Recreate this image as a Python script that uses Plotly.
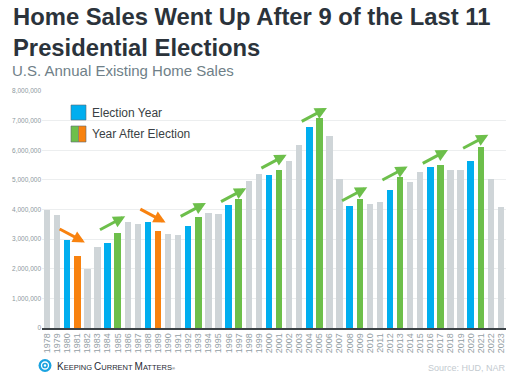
import plotly.graph_objects as go

# ---------------- data ----------------
years = list(range(1978, 2024))
sales = [3986000, 3827000, 2973000, 2419000, 1990000, 2719000, 2868000, 3214000,
         3565000, 3526000, 3594000, 3290000, 3186000, 3145000, 3432000, 3739000,
         3886000, 3852000, 4167000, 4371000, 4966000, 5183000, 5174000, 5335000,
         5632000, 6175000, 6778000, 7076000, 6478000, 5030000, 4110000, 4340000,
         4190000, 4260000, 4660000, 5090000, 4940000, 5250000, 5450000, 5510000,
         5340000, 5340000, 5640000, 6120000, 5030000, 4090000]
election_years = [1980, 1984, 1988, 1992, 1996, 2000, 2004, 2008, 2012, 2016, 2020]
after_down_years = [1981, 1989]
after_up_years = [1985, 1993, 1997, 2001, 2005, 2009, 2013, 2017, 2021]
# level (in sales units) where each election arrow starts
arrow_start = [3370000, 3290000, 4040000, 3740000, 4240000, 5370000, 6950000,
               4270000, 4970000, 5530000, 6040000]
y_tickvals = [0, 1000000, 2000000, 3000000, 4000000, 5000000, 6000000, 7000000, 8000000]
y_ticktext = ["0", "1,000,000", "2,000,000", "3,000,000", "4,000,000", "5,000,000",
              "6,000,000", "7,000,000", "8,000,000"]

title_text = "<b>Home Sales Went Up After 9 of the Last 11<br>Presidential Elections</b>"
subtitle_text = "U.S. Annual Existing Home Sales"
legend_labels = ["Election Year", "Year After Election"]
source_text = "Source: HUD, NAR"

# ---------------- styles ----------------
BLUE = "#00aeef"
GREEN = "#6dbf4b"
ORANGE = "#f8820f"
GRAY = "#cfd5d8"
FONT = "Liberation Sans, Arial, sans-serif"

W, H = 512, 381
L, R, T, B = 42, 6, 91, 53
PW, PH = W - L - R, H - T - B


def px(x):
    return (x - L) / PW


def py(y):
    return (H - B - y) / PH


colors = []
for yr in years:
    if yr in election_years:
        colors.append(BLUE)
    elif yr in after_up_years:
        colors.append(GREEN)
    elif yr in after_down_years:
        colors.append(ORANGE)
    else:
        colors.append(GRAY)

fig = go.Figure()
fig.add_trace(go.Bar(x=years, y=sales, marker=dict(color=colors, line=dict(width=0)),
                     width=0.64, hoverinfo="x+y"))

annotations = []
RISE = 480000
for e, s in zip(election_years, arrow_start):
    up = (e + 1) in after_up_years
    tip = s + RISE if up else s - RISE
    annotations.append(dict(x=e + 1.75, y=tip, ax=e - 0.9, ay=s, xref="x", yref="y",
                            axref="x", ayref="y", text="", showarrow=True,
                            arrowhead=2, arrowsize=0.8, arrowwidth=3,
                            arrowcolor=GREEN if up else ORANGE, standoff=0, startstandoff=0))

# title & subtitle
annotations.append(dict(text=title_text, xref="paper", yref="paper", x=px(10.5), y=py(1),
                        xanchor="left", yanchor="top", showarrow=False, align="left",
                        font=dict(family=FONT, size=23.8, color="#2b333b")))
annotations.append(dict(text=subtitle_text, xref="paper", yref="paper", x=px(10), y=py(60),
                        xanchor="left", yanchor="top", showarrow=False, align="left",
                        font=dict(family=FONT, size=15, color="#6f7f88")))
# legend text
annotations.append(dict(text=legend_labels[0], xref="paper", yref="paper", x=px(90), y=py(112.5),
                        xanchor="left", yanchor="middle", showarrow=False,
                        font=dict(family=FONT, size=12, color="#3a3f44")))
annotations.append(dict(text=legend_labels[1], xref="paper", yref="paper", x=px(90), y=py(134),
                        xanchor="left", yanchor="middle", showarrow=False,
                        font=dict(family=FONT, size=12, color="#3a3f44")))
# source
annotations.append(dict(text=source_text, xref="paper", yref="paper", x=px(508), y=py(368),
                        xanchor="right", yanchor="middle", showarrow=False,
                        font=dict(family=FONT, size=9, color="#c3cacf")))
# logo text
logo = ("<span style='font-size:10px'>K</span>EEPING "
        "<span style='font-size:10px'>C</span>URRENT "
        "<span style='font-size:10px'>M</span>ATTERS<span style='font-size:4px'>®</span>")
annotations.append(dict(text=logo, xref="paper", yref="paper", x=px(55), y=py(366),
                        xanchor="left", yanchor="middle", showarrow=False,
                        font=dict(family=FONT, size=7.5, color="#1f2a33")))

shapes = [
    # legend swatches
    dict(type="rect", xref="paper", yref="paper", x0=px(71), x1=px(86), y0=py(120), y1=py(105),
         fillcolor=BLUE, line=dict(color="#5a6a73", width=0.6)),
    dict(type="rect", xref="paper", yref="paper", x0=px(71), x1=px(78.5), y0=py(142), y1=py(126),
         fillcolor=GREEN, line=dict(width=0)),
    dict(type="rect", xref="paper", yref="paper", x0=px(78.5), x1=px(86), y0=py(142), y1=py(126),
         fillcolor=ORANGE, line=dict(width=0)),
    dict(type="rect", xref="paper", yref="paper", x0=px(71), x1=px(86), y0=py(142), y1=py(126),
         fillcolor="rgba(0,0,0,0)", line=dict(color="#5a6a73", width=0.6)),
    dict(type="line", xref="paper", yref="paper", x0=px(78.5), x1=px(78.5), y0=py(142), y1=py(126),
         line=dict(color="#5a6a73", width=0.6)),
    # logo icon
    dict(type="circle", xref="paper", yref="paper", x0=px(38.5), x1=px(51.5), y0=py(372), y1=py(359),
         fillcolor="#1aa3e0", line=dict(width=0)),
    dict(type="circle", xref="paper", yref="paper", x0=px(41.5), x1=px(48.5), y0=py(369), y1=py(362),
         fillcolor="rgba(0,0,0,0)", line=dict(color="white", width=1.3)),
    dict(type="circle", xref="paper", yref="paper", x0=px(43.8), x1=px(46.2), y0=py(366.7), y1=py(364.3),
         fillcolor="white", line=dict(width=0)),
]

fig.update_layout(
    width=W, height=H,
    margin=dict(l=L, r=R, t=T, b=B, pad=0, autoexpand=False),
    paper_bgcolor="white", plot_bgcolor="white",
    showlegend=False,
    bargap=0,
    annotations=annotations,
    shapes=shapes,
    font=dict(family=FONT),
    xaxis=dict(range=[1977.5, 2023.5], tickmode="array", tickvals=years,
               ticktext=[str(y) for y in years], tickangle=-90, automargin=False,
               tickfont=dict(family=FONT, size=9, color="#939ea4"),
               showgrid=False, zeroline=False, showline=True, linecolor="#3d4347",
               linewidth=1.5, ticks="", ticklen=0, fixedrange=True),
    yaxis=dict(range=[0, 8000000], tickmode="array", tickvals=y_tickvals, ticktext=y_ticktext,
               tickfont=dict(family=FONT, size=6.5, color="#8d989e"), automargin=False,
               showgrid=True, gridcolor="#eceeef", gridwidth=1.2, zeroline=False,
               showline=False, ticks="", fixedrange=True),
)

fig.write_html("out.html", config={"displayModeBar": False},
               post_script="document.body.style.margin='0';document.body.style.padding='0';")
